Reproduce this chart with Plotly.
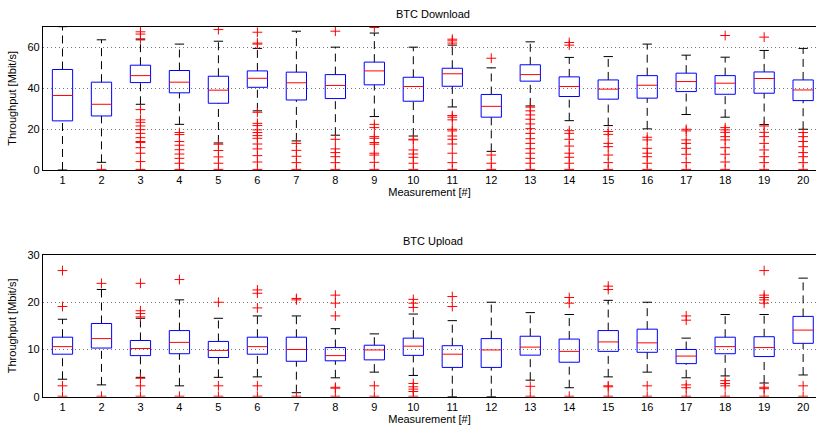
import plotly.graph_objects as go

# Measurement indices
measurements = list(range(1, 21))

# ---- BTC Download: box statistics [Mbit/s]
dl_q1 = [24.0, 26.4, 42.7, 37.7, 32.6, 40.4, 34.2, 34.9, 41.6, 33.6,
         40.9, 25.8, 43.4, 35.9, 34.6, 35.1, 38.3, 37.0, 37.5, 33.9]
dl_med = [36.4, 32.1, 46.1, 42.9, 39.0, 44.8, 42.6, 41.3, 48.4, 40.8,
          47.0, 31.1, 46.6, 40.8, 39.5, 41.4, 43.2, 42.4, 44.7, 39.1]
dl_q3 = [49.1, 42.9, 51.2, 48.6, 45.8, 48.4, 47.8, 46.6, 52.7, 45.3,
         49.7, 36.9, 51.4, 45.5, 44.0, 46.1, 47.3, 46.1, 47.9, 44.0]
dl_lo = [0.0, 3.75, 32.1, 22.3, 13.2, 28.9, 14.2, 17.0, 26.1, 16.6,
         30.8, 9.1, 31.3, 24.1, 21.7, 20.1, 27.1, 25.8, 22.2, 19.9]
dl_hi = [70.0, 63.6, 63.6, 61.5, 62.9, 59.4, 67.8, 60.0, 66.9, 60.0,
         61.0, 49.9, 62.6, 55.0, 55.4, 61.5, 56.1, 55.1, 58.4, 59.4]
dl_out = [
    [],
    [0.3],
    [67.5, 66.4, 64.1, 29.5, 24.5, 23.3, 21.5, 19.7, 17.9, 15.8, 13.9, 13.4, 10.9, 8.2, 4.1, 0.3],
    [18.3, 17.3, 13.9, 12.1, 9.9, 7.8, 5.7, 3.3, 0.3],
    [68.6, 12.6, 9.5, 6.4, 3.3, 0.3],
    [67.3, 62.0, 61.5, 28.2, 22.8, 21.7, 19.6, 18.3, 16.8, 15.5, 12.7, 10.3, 7.0, 3.9, 0.3],
    [13.0, 9.6, 6.7, 3.6, 0.3],
    [67.8, 15.0, 10.3, 8.5, 6.5, 3.6, 0.3],
    [69.6, 22.3, 20.7, 16.3, 15.5, 13.4, 12.6, 8.2, 7.3, 3.75, 0.3],
    [15.0, 14.7, 9.8, 7.8, 6.2, 3.3, 0.3],
    [63.9, 63.1, 62.0, 26.6, 25.8, 24.5, 19.9, 19.1, 16.6, 15.0, 12.7, 8.2, 3.6, 0.3],
    [54.6, 7.3, 3.3, 0.3],
    [30.7, 28.9, 26.9, 24.8, 22.5, 20.2, 17.9, 15.3, 13.0, 10.4, 8.2, 5.7, 3.3, 0.3],
    [62.3, 61.0, 19.2, 17.9, 15.0, 11.7, 8.2, 6.2, 3.3, 0.3],
    [18.8, 17.4, 13.0, 11.4, 7.3, 3.6, 0.3],
    [16.0, 14.7, 10.6, 8.2, 6.5, 3.3, 0.3],
    [19.9, 19.1, 14.7, 13.0, 10.6, 7.7, 3.6, 0.3],
    [65.7, 20.7, 19.6, 18.4, 16.3, 14.7, 10.9, 7.7, 3.9, 0.3],
    [64.9, 21.5, 18.4, 16.3, 13.0, 9.8, 6.5, 3.6, 0.3],
    [18.3, 16.3, 13.9, 11.4, 8.5, 6.5, 3.6, 0.3],
]

# ---- BTC Upload: box statistics [Mbit/s]
ul_q1 = [9.0, 10.3, 8.7, 9.1, 8.3, 9.0, 7.5, 7.6, 7.8, 8.75,
         6.2, 6.2, 8.8, 7.3, 9.6, 9.4, 7.0, 9.1, 8.5, 11.3]
ul_med = [10.6, 12.3, 10.2, 11.5, 9.8, 10.6, 10.0, 8.7, 9.9, 10.7,
          9.0, 9.9, 10.5, 9.6, 11.6, 11.4, 8.6, 10.6, 10.4, 14.1]
ul_q3 = [12.6, 15.5, 11.9, 14.0, 11.7, 12.6, 12.6, 10.4, 10.9, 12.4,
         10.8, 12.3, 12.8, 12.2, 14.0, 14.3, 10.0, 12.6, 12.7, 17.0]
ul_lo = [3.7, 2.5, 4.1, 2.3, 4.1, 4.2, 0.85, 4.0, 5.2, 4.5,
         0.0, 0.0, 3.5, 1.9, 4.2, 5.2, 4.0, 4.4, 2.9, 4.6]
ul_hi = [16.4, 22.7, 16.6, 20.5, 16.6, 17.1, 17.1, 14.4, 13.3, 17.5,
         16.1, 20.0, 17.8, 17.4, 20.4, 20.0, 12.4, 17.4, 17.4, 25.1]
ul_out = [
    [26.7, 19.1, 2.3, 0.1],
    [24.0, 0.1],
    [24.0, 18.2, 17.6, 16.9, 3.9, 2.3, 0.1],
    [24.8, 0.1],
    [20.0, 2.3, 0.1],
    [22.6, 21.9, 18.8, 2.3, 0.1],
    [20.8, 20.5, 0.1],
    [21.5, 19.8, 17.1, 2.0, 1.8, 0.1],
    [2.3, 0.1],
    [20.6, 19.8, 18.9, 2.8, 2.1, 1.6, 1.1, 0.1],
    [21.2, 19.1],
    [],
    [2.2, 0.1],
    [21.0, 19.8, 0.1],
    [23.4, 22.7, 2.3, 2.1, 0.1],
    [2.3, 0.1],
    [17.1, 16.2, 2.5, 1.9, 0.1],
    [3.4, 2.8, 2.3, 0.1],
    [26.7, 21.5, 21.0, 20.5, 19.8, 2.0, 1.7, 0.1],
    [2.3, 0.1],
]

BOX_HALF = 0.26
CAP_HALF = 0.12


def box_traces(q1, med, q3, lo, hi, out, xaxis, yaxis):
    bx, by, mx, my, wx, wy, cx, cy, ox, oy = ([] for _ in range(10))
    for i, x in enumerate(measurements):
        # box outline
        bx += [x - BOX_HALF, x + BOX_HALF, x + BOX_HALF, x - BOX_HALF, x - BOX_HALF, None]
        by += [q1[i], q1[i], q3[i], q3[i], q1[i], None]
        # median
        mx += [x - BOX_HALF, x + BOX_HALF, None]
        my += [med[i], med[i], None]
        # whiskers
        wx += [x, x, None, x, x, None]
        wy += [q3[i], hi[i], None, lo[i], q1[i], None]
        # whisker caps
        cx += [x - CAP_HALF, x + CAP_HALF, None, x - CAP_HALF, x + CAP_HALF, None]
        cy += [hi[i], hi[i], None, lo[i], lo[i], None]
        # outliers
        ox += [x] * len(out[i])
        oy += out[i]
    common = dict(xaxis=xaxis, yaxis=yaxis, showlegend=False, hoverinfo="skip")
    return [
        go.Scatter(x=wx, y=wy, mode="lines",
                   line=dict(color="black", width=1, dash="8px,5px"), **common),
        go.Scatter(x=cx, y=cy, mode="lines",
                   line=dict(color="black", width=1), **common),
        go.Scatter(x=bx, y=by, mode="lines",
                   line=dict(color="#0000ff", width=1), **common),
        go.Scatter(x=mx, y=my, mode="lines",
                   line=dict(color="#ff0000", width=1), **common),
        go.Scatter(x=ox, y=oy, mode="markers",
                   marker=dict(symbol="cross-thin", size=7,
                               line=dict(color="#ff0000", width=1)), **common),
    ]


fig = go.Figure()
for t in box_traces(dl_q1, dl_med, dl_q3, dl_lo, dl_hi, dl_out, "x", "y"):
    fig.add_trace(t)
for t in box_traces(ul_q1, ul_med, ul_q3, ul_lo, ul_hi, ul_out, "x2", "y2"):
    fig.add_trace(t)

FONT = "Liberation Sans, Arial, sans-serif"
W, H = 816, 425
L = 43

xcommon = dict(range=[0.5, 20.33], tickmode="array", tickvals=measurements,
               ticktext=[str(m) for m in measurements], showgrid=False,
               zeroline=False, showline=True, mirror=True, linecolor="black",
               linewidth=1.3, ticks="", automargin=False,
               tickfont=dict(size=11, color="black"),
               title=dict(text="Measurement [#]", font=dict(size=11, color="black"),
                          standoff=2))
ycommon = dict(showgrid=True, gridcolor="#777", griddash="1px,3px", gridwidth=1,
               zeroline=False, showline=True, mirror=False, linecolor="black",
               linewidth=1.3, ticks="", automargin=False,
               tickfont=dict(size=11, color="black"),
               title=dict(text="Throughput [Mbit/s]", font=dict(size=11, color="black"),
                          standoff=8))

fig.update_layout(
    width=W, height=H,
    margin=dict(l=L, r=0, t=0, b=0),
    paper_bgcolor="white", plot_bgcolor="white",
    font=dict(family=FONT, color="black"),
    xaxis=dict(domain=[0, 1], anchor="y", **xcommon),
    yaxis=dict(domain=[(H - 170) / H, (H - 26.7) / H], anchor="x",
               range=[0, 70], tickvals=[0, 20, 40, 60], **ycommon),
    xaxis2=dict(domain=[0, 1], anchor="y2", **xcommon),
    yaxis2=dict(domain=[(H - 396.7) / H, (H - 255) / H], anchor="x2",
                range=[0, 30], tickvals=[0, 10, 20, 30], **ycommon),
    annotations=[
        dict(text="BTC Download", x=(433 - L) / (W - L), y=(H - 14) / H,
             xref="paper", yref="paper", showarrow=False,
             font=dict(size=11, color="black"), xanchor="center", yanchor="middle"),
        dict(text="BTC Upload", x=(433 - L) / (W - L), y=(H - 241) / H,
             xref="paper", yref="paper", showarrow=False,
             font=dict(size=11, color="black"), xanchor="center", yanchor="middle"),
    ],
)

fig.write_html("out.html")
